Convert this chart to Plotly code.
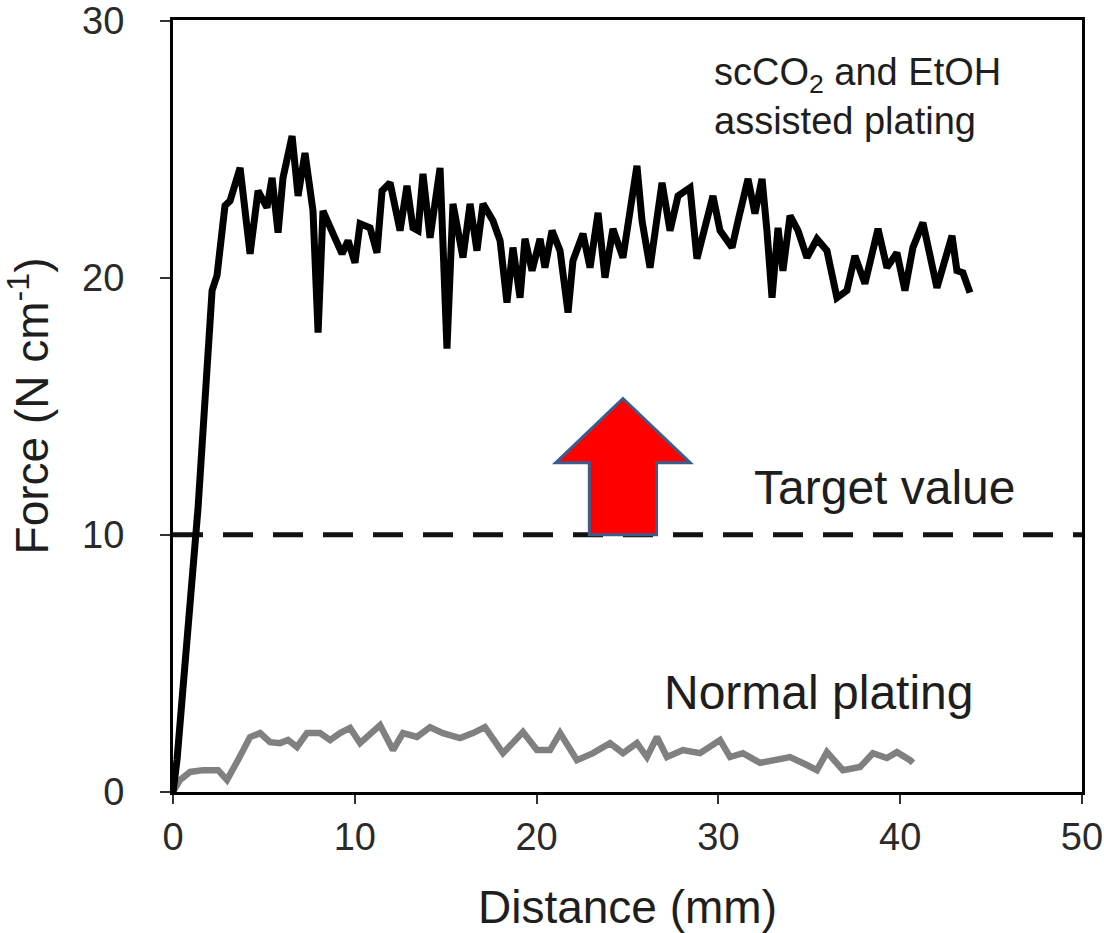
import plotly.graph_objects as go

# ---- data ----
sc_distance = [0, 0.22, 1.38, 2.15, 2.42, 2.86, 3.14, 3.69, 4.24, 4.68, 5.17, 5.45, 5.78, 6.05, 6.55,
               6.88, 7.26, 7.70, 7.98, 8.25, 8.80, 9.30, 9.63, 10.01, 10.29, 10.84, 11.22, 11.50,
               11.94, 12.49, 12.87, 13.20, 13.48, 13.75, 14.14, 14.69, 15.07, 15.40, 15.95, 16.34,
               16.72, 17.05, 17.60, 17.99, 18.37, 18.70, 19.09, 19.36, 19.75, 20.19, 20.46, 20.85,
               21.29, 21.73, 22.00, 22.55, 22.94, 23.38, 23.76, 24.20, 24.75, 25.25, 25.52, 25.80,
               26.24, 26.90, 27.34, 27.78, 28.44, 28.82, 29.26, 29.70, 30.09, 30.75, 31.08, 31.63,
               32.01, 32.40, 32.67, 32.95, 33.28, 33.55, 33.94, 34.38, 34.87, 35.42, 35.97, 36.52,
               37.07, 37.51, 38.06, 38.78, 39.27, 39.82, 40.26, 40.70, 41.25, 41.64, 42.02, 42.85,
               43.12, 43.45, 43.84]
sc_force = [0, 1.24, 11.07, 19.50, 20.08, 22.80, 22.99, 24.27, 20.93, 23.38, 22.72, 23.88, 21.75, 23.88,
            25.51, 23.18, 24.85, 22.60, 17.86, 22.60, 21.71, 20.93, 21.44, 20.58, 22.10, 21.94, 20.97,
            23.38, 23.69, 21.83, 23.57, 21.94, 21.83, 24.04, 21.55, 24.27, 17.24, 22.87, 20.78, 22.87,
            21.05, 22.87, 22.21, 21.44, 19.03, 21.17, 19.22, 21.51, 20.27, 21.51, 20.39, 21.83, 21.05,
            18.64, 20.66, 21.71, 20.39, 22.52, 20.00, 21.90, 20.78, 23.26, 24.35, 22.21, 20.39, 23.69,
            21.83, 23.18, 23.50, 20.74, 22.10, 23.18, 21.83, 21.17, 22.21, 23.84, 22.49, 23.84, 21.83,
            19.22, 21.94, 20.27, 22.41, 21.83, 20.78, 21.51, 21.05, 19.22, 19.50, 20.85, 19.77, 21.90,
            20.39, 20.97, 19.50, 21.17, 22.14, 20.93, 19.61, 21.63, 20.27, 20.19, 19.42]

normal_distance = [0, 0.39, 0.94, 1.65, 2.48, 2.97, 3.52, 4.24, 4.79, 5.34, 5.89, 6.33, 6.82, 7.37,
                   8.09, 8.64, 9.19, 9.74, 10.29, 10.84, 11.39, 12.10, 12.65, 13.42, 14.14, 14.85,
                   15.79, 16.50, 17.16, 18.15, 18.70, 19.25, 20.02, 20.74, 21.29, 22.22, 23.10, 24.04,
                   24.75, 25.52, 26.07, 26.62, 27.17, 28.05, 28.99, 30.09, 30.64, 31.35, 32.29, 33.00,
                   33.94, 34.87, 35.42, 35.97, 36.85, 37.79, 38.50, 39.27, 39.82, 40.54, 40.70]
normal_force = [0, 0.47, 0.78, 0.85, 0.85, 0.47, 1.17, 2.14, 2.29, 1.94, 1.90, 2.02, 1.75, 2.29,
                2.29, 2.02, 2.29, 2.49, 1.90, 2.29, 2.60, 1.63, 2.29, 2.14, 2.52, 2.29, 2.10, 2.29,
                2.52, 1.51, 1.90, 2.33, 1.63, 1.63, 2.29, 1.24, 1.51, 1.90, 1.51, 1.90, 1.36, 2.14,
                1.36, 1.63, 1.51, 2.02, 1.36, 1.51, 1.13, 1.24, 1.36, 1.05, 0.85, 1.55, 0.85, 0.97,
                1.51, 1.32, 1.55, 1.24, 1.13]

target_distance = [0, 50]
target_force = [10, 10]

x_ticks = [0, 10, 20, 30, 40, 50]
y_ticks = [0, 10, 20, 30]

FONT = "Liberation Sans, Arial, sans-serif"
TXT = "#1e1e1e"

fig = go.Figure()
fig.add_trace(go.Scatter(x=target_distance, y=target_force, mode="lines",
                         line=dict(color="#111111", width=5, dash="30px,20px"),
                         hoverinfo="skip", showlegend=False))
fig.add_trace(go.Scatter(x=normal_distance, y=normal_force, mode="lines",
                         line=dict(color="#808080", width=6.5), showlegend=False))
fig.add_trace(go.Scatter(x=sc_distance, y=sc_force, mode="lines",
                         line=dict(color="#000000", width=7), showlegend=False))

# red up arrow (decoration) in data coordinates
ax_c, tip_y, head_y, base_y = 24.75, 15.3, 12.8, 10.0
head_half, shaft_half = 3.7, 1.85
arrow_path = (f"M {ax_c-shaft_half},{base_y} L {ax_c-shaft_half},{head_y} L {ax_c-head_half},{head_y} "
              f"L {ax_c},{tip_y} L {ax_c+head_half},{head_y} L {ax_c+shaft_half},{head_y} "
              f"L {ax_c+shaft_half},{base_y} Z")
fig.add_shape(type="path", path=arrow_path, xref="x", yref="y",
              fillcolor="#ff0000", line=dict(color="#3b5d8c", width=3))

fig.add_annotation(x=0.593, y=0.962, xref="paper", yref="paper", xanchor="left", yanchor="top",
                   text="scCO<sub>2</sub> and EtOH<br>assisted plating", showarrow=False, align="left",
                   font=dict(family=FONT, size=38, color=TXT))
fig.add_annotation(x=0.637, y=0.395, xref="paper", yref="paper", xanchor="left", yanchor="middle",
                   text="Target value", showarrow=False,
                   font=dict(family=FONT, size=48, color=TXT))
fig.add_annotation(x=0.538, y=0.129, xref="paper", yref="paper", xanchor="left", yanchor="middle",
                   text="Normal plating", showarrow=False,
                   font=dict(family=FONT, size=48, color=TXT))

fig.update_layout(
    width=1104, height=933,
    margin=dict(l=173, r=22, t=20, b=141, autoexpand=False),
    paper_bgcolor="white", plot_bgcolor="white",
    font=dict(family=FONT, color=TXT),
    xaxis=dict(range=[0, 50], tickvals=x_ticks, showgrid=False, zeroline=False, automargin=False,
               showline=True, linecolor="black", linewidth=3, mirror=True,
               ticks="outside", ticklen=9, tickwidth=2, tickcolor="#333",
               ticklabelstandoff=0, ticklabeloverflow="allow",
               tickfont=dict(size=38, family=FONT, color="#2a2a2a"),
               title=dict(text="Distance (mm)", font=dict(size=46, family=FONT, color=TXT), standoff=36)),
    yaxis=dict(range=[0, 30.02], tickvals=y_ticks, showgrid=False, zeroline=False, automargin=False,
               showline=True, linecolor="black", linewidth=3, mirror=True,
               ticks="outside", ticklen=10, tickwidth=2, tickcolor="#333",
               ticklabelstandoff=28, ticklabeloverflow="allow",
               tickfont=dict(size=38, family=FONT, color="#2a2a2a"),
               title=dict(text="Force (N cm<sup>-1</sup>)", font=dict(size=46, family=FONT, color=TXT), standoff=20)),
)

fig.write_html("out.html")
